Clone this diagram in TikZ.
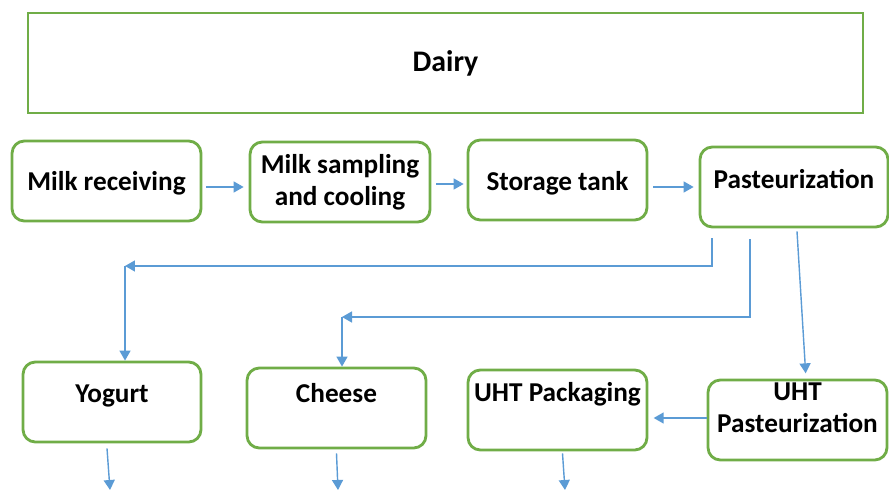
\documentclass[tikz,border=0pt]{standalone}
\usepackage{fontspec}
\setmainfont{Carlito}
\usetikzlibrary{positioning,calc,arrows.meta}
\definecolor{BoxGreen}{RGB}{112,173,71}
\definecolor{FlowBlue}{RGB}{91,155,213}

\begin{document}
\begin{tikzpicture}[
    x=0.02cm, y=-0.02cm,
    font=\fontsize{15.5}{18}\selectfont\bfseries,
    >={Triangle[length=2mm,width=2.2mm]},
    box/.style={draw=BoxGreen, line width=1.6pt, rounded corners=7pt, align=center, inner sep=0pt, minimum width=3.58cm, minimum height=1.6cm},
    arrow/.style={->, line width=0.8pt, draw=FlowBlue}
]
\useasboundingbox (0,0) rectangle (889,490);
\node[box, rounded corners=0pt, minimum width=16.7cm, minimum height=2cm, font=\fontsize{17}{20}\selectfont\bfseries] (dairy) at (445.5,63) {Dairy};
\node[box, minimum width=3.78cm, text height=0.96cm, text depth=0.6cm] (receiving) at (106.5,181) {Milk receiving};
\node[box, minimum width=3.6cm] (sampling) at (340,182) {Milk sampling\\and cooling};
\node[box, text height=1.0cm, text depth=0.6cm] (storage) at (557.5,180) {Storage tank};
\node[box, minimum width=3.76cm, text height=0.82cm, text depth=0.78cm] (pasteur) at (794,187) {Pasteurization};
\node[box, minimum width=3.56cm, text height=0.8cm, text depth=0.8cm] (yogurt) at (112,402) {Yogurt};
\node[box, text height=0.68cm, text depth=0.92cm] (cheese) at (336.5,408) {Cheese};
\node[box, text height=0.62cm, text depth=0.98cm] (uhtpack) at (557.5,410) {UHT Packaging};
\node[box, text height=1.04cm, text depth=0.56cm] (uhtpast) at (797.5,420) {UHT\\Pasteurization};
\coordinate (yjoin) at (125,266);
\coordinate (cjoin) at (342,317);
\coordinate (yogurtout) at (110,490);
\coordinate (cheeseout) at (338,490);
\coordinate (uhtout) at (565,490);
% main line
\draw[arrow] ($(receiving.east)+(4,6)$) -- ($(sampling.west)+(-5,5)$);
\draw[arrow] ($(sampling.east)+(5,2)$) -- ($(storage.west)+(-3,4)$);
\draw[arrow] ($(storage.east)+(5,7)$) -- ($(pasteur.west)+(-5,0)$);
% branches
\draw[arrow] ($(pasteur.south)+(-82,10)$) |- (yjoin);
\draw[arrow] (yjoin) -- (yjoin |- yogurt.north);
\draw[arrow] ($(pasteur.south)+(-44,11)$) |- (cjoin);
\draw[arrow] (cjoin) -- (cjoin |- cheese.north);
\draw[arrow, shorten >=3pt] ($(pasteur.south)+(3,3)$) -- ($(uhtpast.north)+(8.5,0)$);
\draw[arrow, shorten >=3pt] ($(uhtpast.west)+(0,-2)$) -- ($(uhtpack.east)+(0,8)$);
% outputs
\draw[arrow] ($(yogurt.south)+(-5,5)$) -- (yogurtout);
\draw[arrow] ($(cheese.south)+(0,4)$) -- (cheeseout);
\draw[arrow] ($(uhtpack.south)+(5,2)$) -- (uhtout);
\end{tikzpicture}
\end{document}
